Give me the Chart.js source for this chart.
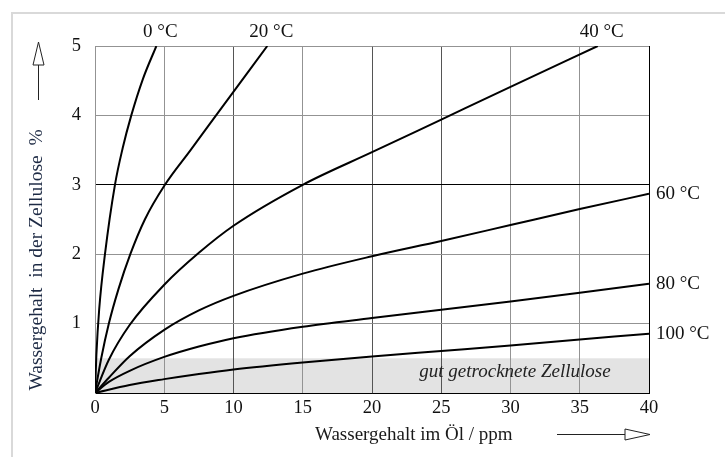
<!DOCTYPE html>
<html>
<head>
<meta charset="utf-8">
<script src="https://cdn.jsdelivr.net/npm/chart.js@4"></script>
<style>
  html, body { margin: 0; padding: 0; background: #fff; }
  canvas { display: block; }
</style>
</head>
<body>
<canvas id="chart" width="725" height="457"></canvas>
<script>
// Equilibrium water content of cellulose vs. water content in oil
const xTicks = [0, 5, 10, 15, 20, 25, 30, 35, 40];
const yTicks = [0, 1, 2, 3, 4, 5];
const yTickLabels = ['', '1', '2', '3', '4', '5'];
const curveLabels = ['0 °C', '20 °C', '40 °C', '60 °C', '80 °C', '100 °C'];

// x: ppm water in oil, y: % water in cellulose
const water0 = [
  {x: 0, y: 0}, {x: 0.1, y: 0.55}, {x: 0.3, y: 1.2}, {x: 0.72, y: 2.0},
  {x: 1.44, y: 3.0}, {x: 2.0, y: 3.53}, {x: 2.62, y: 4.0}, {x: 3.45, y: 4.52},
  {x: 4.43, y: 5.0}
];
const water20 = [
  {x: 0, y: 0}, {x: 0.45, y: 0.5}, {x: 1.0, y: 1.0}, {x: 1.7, y: 1.5},
  {x: 2.55, y: 2.0}, {x: 3.6, y: 2.5}, {x: 5.05, y: 3.0}, {x: 6.9, y: 3.5},
  {x: 8.7, y: 3.99}, {x: 12.44, y: 5.0}
];
const water40 = [
  {x: 0, y: 0}, {x: 1, y: 0.48}, {x: 2.5, y: 0.98}, {x: 5, y: 1.56},
  {x: 7.5, y: 2.02}, {x: 10, y: 2.41}, {x: 15, y: 3.0}, {x: 20, y: 3.47},
  {x: 25, y: 3.94}, {x: 30, y: 4.41}, {x: 36.3, y: 5.0}
];
const water60 = [
  {x: 0, y: 0}, {x: 1, y: 0.22}, {x: 2.5, y: 0.53}, {x: 5, y: 0.91},
  {x: 7.5, y: 1.19}, {x: 10, y: 1.4}, {x: 15, y: 1.72}, {x: 20, y: 1.97},
  {x: 25, y: 2.19}, {x: 30, y: 2.42}, {x: 35, y: 2.65}, {x: 40, y: 2.87}
];
const water80 = [
  {x: 0, y: 0}, {x: 1, y: 0.16}, {x: 2.5, y: 0.32}, {x: 5, y: 0.52},
  {x: 7.5, y: 0.67}, {x: 10, y: 0.79}, {x: 15, y: 0.955}, {x: 20, y: 1.08},
  {x: 25, y: 1.2}, {x: 30, y: 1.32}, {x: 35, y: 1.445}, {x: 40, y: 1.575}
];
const water100 = [
  {x: 0, y: 0}, {x: 2.5, y: 0.115}, {x: 5, y: 0.2}, {x: 7.5, y: 0.275},
  {x: 10, y: 0.34}, {x: 15, y: 0.44}, {x: 20, y: 0.525}, {x: 25, y: 0.605},
  {x: 30, y: 0.685}, {x: 35, y: 0.77}, {x: 40, y: 0.855}
];
const series = [water0, water20, water40, water60, water80, water100];

// upper limit of the "well dried" band, in %
const dryLimit = 0.5;
const dryLabel = 'gut getrocknete Zellulose';

const SERIF = '"Liberation Serif", "Times New Roman", serif';
const darkX = [10, 20, 25];
const darkY = [0, 3];

function gridColorX(ctx) {
  const v = ctx.tick ? ctx.tick.value : null;
  if (v === 40) return '#000';
  return darkX.includes(v) ? '#555' : '#939393';
}
function gridColorY(ctx) {
  const v = ctx.tick ? ctx.tick.value : null;
  return darkY.includes(v) ? '#000' : '#939393';
}

// Frame, shaded band under the grid
const backdrop = {
  id: 'backdrop',
  beforeDraw(chart) {
    const {ctx, chartArea: a, scales: {x, y}} = chart;
    ctx.save();
    ctx.fillStyle = '#fff';
    ctx.fillRect(0, 0, chart.width, chart.height);
    // light outer frame (left and top)
    ctx.strokeStyle = '#d9d9d9';
    ctx.lineWidth = 2;
    ctx.beginPath();
    ctx.moveTo(12, chart.height);
    ctx.lineTo(12, 13);
    ctx.lineTo(chart.width, 13);
    ctx.stroke();
    // dry cellulose band
    const yTop = y.getPixelForValue(dryLimit);
    const yBot = y.getPixelForValue(0);
    ctx.fillStyle = '#e3e3e3';
    ctx.fillRect(a.left, yTop, a.right - a.left, yBot - yTop);
    ctx.restore();
  }
};

// Curve labels, band label, axis titles with arrows
const annotations = {
  id: 'annotations',
  afterDatasetsDraw(chart) {
    const {ctx, chartArea: a} = chart;
    ctx.save();
    ctx.fillStyle = '#111';
    ctx.font = '19px ' + SERIF;
    chart.data.datasets.forEach((ds, i) => {
      const meta = chart.getDatasetMeta(i);
      const end = meta.data[meta.data.length - 1];
      if (!end) return;
      if (end.y <= a.top + 1) {
        ctx.textAlign = 'center';
        ctx.textBaseline = 'middle';
        ctx.fillText(ds.label, end.x + 4, a.top - 14);
      } else {
        ctx.textAlign = 'left';
        ctx.textBaseline = 'middle';
        ctx.fillText(ds.label, a.right + 7, end.y);
      }
    });

    // band label
    const yTop = chart.scales.y.getPixelForValue(dryLimit);
    ctx.font = 'italic 19px ' + SERIF;
    ctx.textAlign = 'center';
    ctx.textBaseline = 'middle';
    ctx.fillStyle = '#222';
    ctx.fillText(dryLabel, a.right - 134, (yTop + a.bottom) / 2 - 4);

    // x title and arrow
    ctx.font = '19px ' + SERIF;
    ctx.fillStyle = '#1a1a1a';
    ctx.textAlign = 'left';
    ctx.fillText('Wassergehalt im Öl / ppm', 315, 435);
    ctx.strokeStyle = '#222';
    ctx.lineWidth = 1;
    ctx.beginPath();
    ctx.moveTo(557, 434.5);
    ctx.lineTo(625, 434.5);
    ctx.stroke();
    ctx.beginPath();
    ctx.moveTo(625, 429);
    ctx.lineTo(650, 434.5);
    ctx.lineTo(625, 440);
    ctx.closePath();
    ctx.stroke();

    // y title and arrow
    ctx.save();
    ctx.translate(37, 260);
    ctx.rotate(-Math.PI / 2);
    ctx.font = '19.5px ' + SERIF;
    ctx.fillStyle = '#1d2a44';
    ctx.textAlign = 'center';
    ctx.textBaseline = 'middle';
    ctx.fillText('Wassergehalt  in der Zellulose  %', 0, 0);
    ctx.restore();
    ctx.beginPath();
    ctx.moveTo(38.5, 100);
    ctx.lineTo(38.5, 65);
    ctx.stroke();
    ctx.beginPath();
    ctx.moveTo(33, 65);
    ctx.lineTo(38.5, 42);
    ctx.lineTo(44, 65);
    ctx.closePath();
    ctx.stroke();
    ctx.restore();
  }
};

new Chart(document.getElementById('chart'), {
  type: 'scatter',
  data: {
    datasets: series.map((pts, i) => ({
      label: curveLabels[i],
      data: pts,
      showLine: true,
      borderColor: '#000',
      borderWidth: 2,
      pointRadius: 0,
      fill: false,
      cubicInterpolationMode: 'monotone'
    }))
  },
  options: {
    responsive: false,
    animation: false,
    devicePixelRatio: 1,
    layout: { padding: { left: 0, top: 46, right: 76, bottom: 0 } },
    plugins: { legend: { display: false }, tooltip: { enabled: false } },
    scales: {
      x: {
        type: 'linear',
        min: 0, max: 40,
        afterBuildTicks: s => { s.ticks = xTicks.map(v => ({ value: v })); },
        afterFit: s => { s.height = 64; },
        ticks: { color: '#111', font: { family: SERIF, size: 18.5 }, padding: 4, maxRotation: 0 },
        grid: { color: gridColorX, lineWidth: 1, drawTicks: false },
        border: { color: '#000', width: 1 }
      },
      y: {
        type: 'linear',
        min: 0, max: 5,
        afterBuildTicks: s => { s.ticks = yTicks.map(v => ({ value: v })); },
        afterFit: s => { s.width = 95; },
        ticks: {
          color: '#111',
          font: { family: SERIF, size: 18.5 },
          padding: 14,
          callback: (v, idx) => yTickLabels[idx]
        },
        grid: { color: gridColorY, lineWidth: 1, drawTicks: false },
        border: { color: '#939393', width: 1 }
      }
    }
  },
  plugins: [backdrop, annotations]
});
</script>
</body>
</html>
